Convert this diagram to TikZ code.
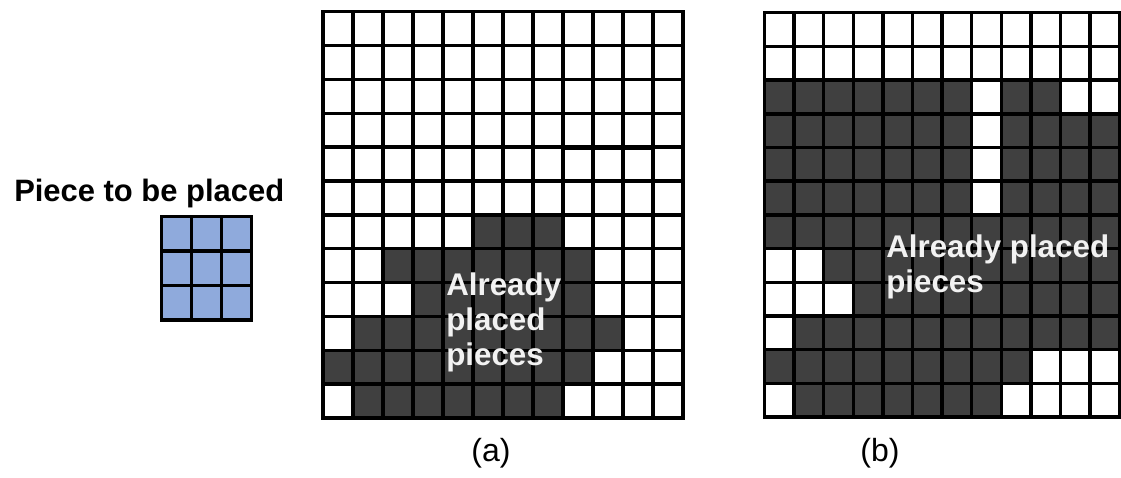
\documentclass[tikz,border=0pt]{standalone}
\usepackage{fontspec}
\setmainfont{Liberation Sans}
\definecolor{cellgray}{RGB}{64,64,64}
\definecolor{pieceblue}{RGB}{143,170,220}
\definecolor{labelwhite}{RGB}{242,242,242}
\tikzset{
  gridline/.style={line width=2.6pt, draw=black},
  darkcell/.style={fill=cellgray},
  bluecell/.style={fill=pieceblue},
  boardlabel/.style={font=\bfseries\fontsize{23.5}{26.25}\selectfont, text=labelwhite, inner sep=0pt, align=left, anchor=north west},
  caption/.style={font=\fontsize{24}{28}\selectfont, inner sep=0pt}
}
\newcommand\drawboard[5]{%
  \foreach \r/\cs in {#5} {
    \foreach \c in \cs {
      \fill[darkcell] ({#1+(\c-1)*#3},{#2+(\r-1)*#4}) rectangle ++(#3,#4);
    }
  }
  \foreach \i in {1,...,11} {
    \draw[gridline] ({#1+\i*#3},#2) -- ++(0,{12*#4});
    \draw[gridline] (#1,{#2+\i*#4}) -- ++({12*#3},0);
  }
  \draw[gridline] (#1,#2) rectangle ++({12*#3},{12*#4});
}
\begin{document}
\begin{tikzpicture}[x=0.75pt,y=-0.75pt]
\useasboundingbox (0,0) rectangle (1121,478);
% board (a)
\drawboard{323}{11.7}{30}{33.86}{7/{6,7,8}, 8/{3,...,9}, 9/{4,...,9}, 10/{2,...,10}, 11/{1,...,9}, 12/{2,...,8}}
\draw[line width=3.8pt] (563,147.3) -- (653,147.3);
% board (b)
\drawboard{764.5}{12.7}{29.6}{33.7}{3/{1,...,7,9,10}, 4/{1,...,7,9,10,11,12}, 5/{1,...,7,9,10,11,12}, 6/{1,...,7,9,10,11,12}, 7/{1,...,12}, 8/{3,...,12}, 9/{4,...,12}, 10/{2,...,12}, 11/{1,...,9}, 12/{2,...,8}}
% piece
\fill[bluecell] (161.7,216.7) rectangle ++(90,103.2);
\foreach \i in {1,2} {
  \draw[gridline] ({161.7+\i*30},216.7) -- ++(0,103.2);
  \draw[gridline] (161.7,{216.7+\i*34.4}) -- ++(90,0);
}
\draw[gridline] (161.7,216.7) rectangle ++(90,103.2);
% texts
\node[font=\bfseries\fontsize{23.2}{26}\selectfont, anchor=base west, inner sep=0pt] (title) at (14,201) {Piece to be placed};
\node[boardlabel] (labela) at (446,272.5) {Already\\placed\\pieces};
\node[boardlabel] (labelb) at (886,235) {Already placed\\pieces};
\node[caption] (capa) at (491,453) {(a)};
\node[caption] (capb) at (880,453) {(b)};
\end{tikzpicture}
\end{document}
